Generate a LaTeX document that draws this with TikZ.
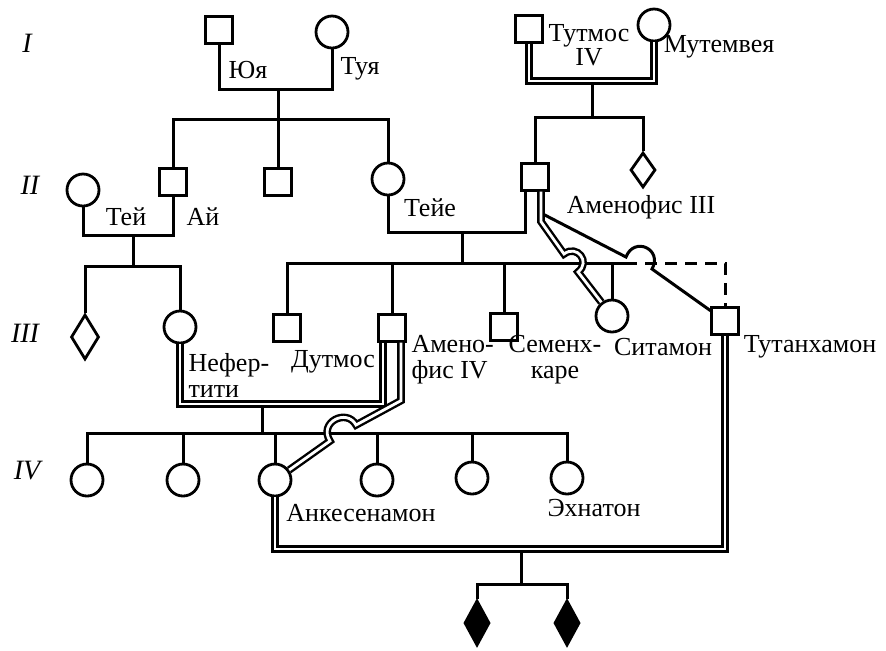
\documentclass[tikz,border=0pt]{standalone}
\usepackage{fontspec}
\setmainfont{Liberation Serif}
\usetikzlibrary{shapes.geometric, calc}

\begin{document}
\begin{tikzpicture}[x=0.5pt, y=-0.5pt, line width=1.5pt,
male/.style={rectangle, draw, line width=1.4pt, inner sep=0pt, minimum size=13.2pt},
female/.style={circle, draw, line width=1.4pt, inner sep=0pt, minimum size=16pt},
unknown/.style={diamond, draw, line width=1.4pt, inner sep=0pt, minimum width=12.5pt, minimum height=17.5pt},
marr/.style={double, line width=1.2pt, double distance=1.4pt},
lbl/.style={inner sep=0pt, font=\fontsize{13}{13}\selectfont},
gen/.style={inner sep=0pt, font=\fontsize{14}{14}\selectfont\itshape}]

\useasboundingbox (0,0) rectangle (886,650);

\node [male] (yuya) at (219,30) {};
\node [female] (tuya) at (332,32) {};
\node [male] (tutmos) at (529,29) {};
\node [female] (mutem) at (654,25) {};

\node [female] (tei) at (83,190) {};
\node [male] (ai) at (173,182) {};
\node [male] (brother) at (278,182) {};
\node [female] (teie) at (388,179) {};
\node [male] (amen3) at (535,177) {};
\node [unknown] (sibl) at (643,170) {};

\node [unknown, minimum width=14pt, minimum height=22.5pt] (dia3) at (85,337) {};
\node [female] (nefer) at (180,327) {};
\node [male] (dutmos) at (287,328) {};
\node [male] (amen4) at (392,328) {};
\node [male] (semen) at (504,327) {};
\node [female] (sitamon) at (612,316) {};
\node [male] (tutankh) at (725,321) {};

\node [female] (dau1) at (87,480) {};
\node [female] (dau2) at (183,480) {};
\node [female] (ankh) at (275,480) {};
\node [female] (dau4) at (377,480) {};
\node [female] (dau5) at (472,478) {};
\node [female] (ehnaton) at (567,478) {};

\node [unknown, fill, minimum width=12.5pt, minimum height=22.5pt] (kid1) at (477,623) {};
\node [unknown, fill, minimum width=12.5pt, minimum height=22.5pt] (kid2) at (567,623) {};

\coordinate (m1) at (278,89);
\coordinate (s1) at (278,119);
\coordinate (m2) at (592,81);
\coordinate (s2) at (592,117);
\coordinate (m3) at (133,235);
\coordinate (s3) at (133,266);
\coordinate (m4) at (462,232);
\coordinate (s4) at (462,263);
\coordinate (s4e) at (625,263);
\coordinate (m5) at (262,404);
\coordinate (s5) at (262,433);
\coordinate (m6) at (521,549);
\coordinate (s6) at (521,584);

\draw (yuya) |- (m1) -| (tuya);
\path (m1) edge (s1);
\draw (ai) |- (s1) -| (teie);
\path (s1) edge (brother);

\path (m2) edge (s2);
\draw [marr] (tutmos) |- (m2) -| (mutem);
\draw (amen3) |- (s2) -| (sibl);

\draw (tei) |- (m3) -| (ai);
\path (m3) edge (s3);
\draw (dia3) |- (s3) -| (nefer);

\draw (teie) |- (m4) -| ($(amen3.south)+(-10,0)$);
\path (m4) edge (s4);
\draw (dutmos) |- (s4e);
\draw (s4 -| amen4) -- (amen4);
\draw (s4 -| semen) -- (semen);
\draw (s4 -| sitamon) -- (sitamon);
\draw [dash pattern=on 6pt off 4pt] (s4e) -| (tutankh);
\draw ($(amen3.south)+(9,23)$) -- (626,257) .. controls (634,236) and (663,249) .. (652,269) -- (tutankh);
\draw [marr] ($(amen3.south)+(6,0)$) -- ++(0,30) -- (564,254) .. controls (577,244) and (591,262) .. (578,272) -- (sitamon);

\path (m5) edge (s5);
\draw [marr] (nefer) |- (m5) -| ($(amen4.south)+(-9,0)$);
\draw (dau1) |- (s5) -| (ehnaton);
\draw (s5 -| dau2) -- (dau2);
\draw (s5 -| ankh) -- (ankh);
\draw (s5 -| dau4) -- (dau4);
\draw (s5 -| dau5) -- (dau5);
\draw [marr] ($(amen4.south)+(9,0)$) -- ++(0,58) -- (356,425) .. controls (347,408) and (318,422) .. (330,441) -- (ankh);

\path (m6) edge (s6);
\draw [marr] (ankh) |- (m6) -| (tutankh);
\draw (kid1) |- (s6) -| (kid2);

\node [lbl] (lyuya) at (248,70) {Юя};
\node [lbl] (ltuya) at (360,69) {Туя};
\node [lbl, align=center] (ltutmos) at (589,45) {Тутмос\\[-1pt]IV};
\node [lbl] (lmutem) at (719,47) {Мутемвея};
\node [lbl] (ltei) at (126,217) {Тей};
\node [lbl] (lai) at (203,217) {Ай};
\node [lbl] (lteie) at (430,208) {Тейе};
\node [lbl] (lamen3) at (641,207) {Аменофис III};
\node [lbl, align=left, anchor=west] (lnefer) at (187,375) {Нефер-\\тити};
\node [lbl] (ldutmos) at (333,362) {Дутмос};
\node [lbl, align=left, anchor=west] (lamen4) at (410,360) {Амено-\\фис IV};
\node [lbl, align=center] (lsemen) at (555,360) {Семенх-\\каре};
\node [lbl] (lsitamon) at (663,347) {Ситамон};
\node [lbl] (ltutankh) at (810,347) {Тутанхамон};
\node [lbl] (lankh) at (361,513) {Анкесенамон};
\node [lbl] (lehnaton) at (594,508) {Эхнатон};

\node [gen] (g1) at (27,43) {I};
\node [gen] (g2) at (30,185) {II};
\node [gen] (g3) at (25,333) {III};
\node [gen] (g4) at (27,471) {IV};

\end{tikzpicture}
\end{document}
